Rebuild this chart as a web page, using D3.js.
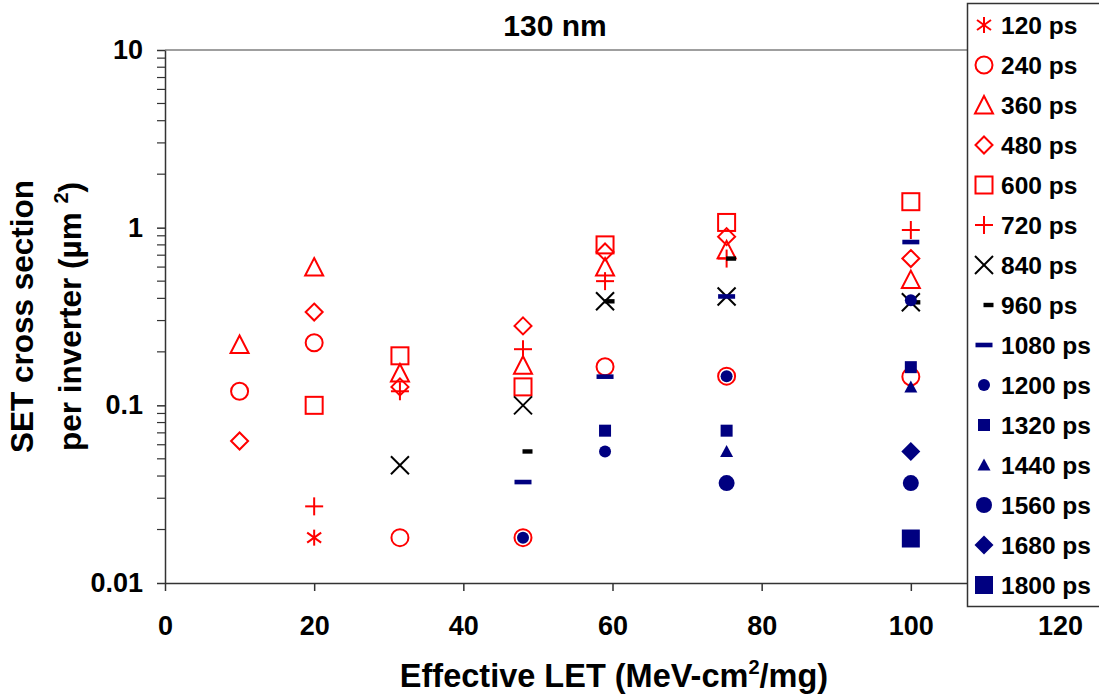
<!DOCTYPE html>
<html lang="en">
<head>
<meta charset="UTF-8">
<script src="https://d3js.org/d3.v7.min.js"></script>
<title>130 nm</title>
<style>
    * { margin: 0; padding: 0; }
    body { background: white; }
    svg { display: block; font-family: "Liberation Sans", Arial, sans-serif; font-weight: bold; }
</style>
</head>
<body>
<svg id="chart" width="1099" height="694"></svg>
<script>
    // effective LET values (x) and SET cross sections per pulse width (null = no point)
    const letValues = [10, 20, 31.5, 48, 59, 75.3, 100];
    const ps120  = [null, 0.018, null, null, null, null, null];
    const ps240  = [0.12, 0.225, 0.018, 0.018, 0.165, 0.146, 0.145];
    const ps360  = [0.22, 0.6, 0.152, 0.168, 0.6, 0.75, 0.51];
    const ps480  = [0.063, 0.335, 0.127, 0.28, 0.73, 0.89, 0.67];
    const ps600  = [null, 0.1, 0.19, 0.127, 0.8, 1.07, 1.4];
    const ps720  = [null, 0.027, 0.12, 0.207, 0.5, 0.67, 0.97];
    const ps840  = [null, null, 0.046, 0.1, 0.385, 0.41, 0.38];
    const ps960  = [null, null, null, 0.055, 0.385, 0.67, 0.38];
    const ps1080 = [null, null, null, 0.037, 0.145, 0.41, 0.83];
    const ps1200 = [null, null, null, 0.018, 0.055, 0.146, 0.39];
    const ps1320 = [null, null, null, null, 0.072, 0.072, 0.164];
    const ps1440 = [null, null, null, null, null, 0.055, 0.127];
    const ps1560 = [null, null, null, null, null, 0.0365, 0.0365];
    const ps1680 = [null, null, null, null, null, null, 0.055];
    const ps1800 = [null, null, null, null, null, null, 0.0178];

    const seriesNames = ['120 ps', '240 ps', '360 ps', '480 ps', '600 ps', '720 ps', '840 ps', '960 ps',
                         '1080 ps', '1200 ps', '1320 ps', '1440 ps', '1560 ps', '1680 ps', '1800 ps'];
    const seriesValues = [ps120, ps240, ps360, ps480, ps600, ps720, ps840, ps960,
                          ps1080, ps1200, ps1320, ps1440, ps1560, ps1680, ps1800];
    const xTicks = [0, 20, 40, 60, 80, 100, 120];
    const yTicks = [0.01, 0.1, 1, 10];

    const red = '#ff0000', navy = '#000080', black = '#000000';
    // marker style per series
    const markers = [
        {type: 'asterisk', color: red},
        {type: 'circle', color: red},
        {type: 'triangle', color: red},
        {type: 'diamond', color: red},
        {type: 'square', color: red},
        {type: 'plus', color: red},
        {type: 'cross', color: black},
        {type: 'shortdash', color: black},
        {type: 'dash', color: navy},
        {type: 'fcircle', color: navy, r: 6},
        {type: 'fsquare', color: navy, r: 6},
        {type: 'ftriangle', color: navy, r: 6.5},
        {type: 'fcircle', color: navy, r: 8},
        {type: 'fdiamond', color: navy, r: 9.5},
        {type: 'fsquare', color: navy, r: 9}
    ];

    const svg = d3.select('#chart');
    const pLeft = 165, pRight = 1060, pTop = 50, pBottom = 583;

    const x = d3.scaleLinear().domain([0, 120]).range([pLeft, pRight]);
    const y = d3.scaleLog().domain([0.01, 10]).range([pBottom, pTop]);

    // plot frame (top / right)
    svg.append('path')
        .attr('d', `M${pLeft},${pTop}H${pRight}V${pBottom}`)
        .attr('fill', 'none')
        .attr('stroke', '#808080')
        .attr('stroke-width', 1.5);

    // x axis
    const xAxis = svg.append('g')
        .attr('transform', `translate(0,${pBottom})`)
        .call(d3.axisBottom(x).tickValues(xTicks).tickSize(8).tickPadding(25).tickSizeOuter(0));
    xAxis.select('.domain').attr('stroke', '#333').attr('stroke-width', 1.5);
    xAxis.selectAll('.tick line').attr('stroke', '#333').attr('stroke-width', 1.5);
    xAxis.selectAll('text')
        .attr('font-family', '"Liberation Sans", Arial, sans-serif')
        .attr('font-weight', 'bold')
        .attr('font-size', 27)
        .attr('fill', '#000');

    // y axis with log minor ticks
    const minorTicks = y.ticks().filter(v => yTicks.indexOf(v) < 0);
    const yAxis = svg.append('g')
        .attr('transform', `translate(${pLeft},0)`)
        .call(d3.axisLeft(y).tickValues(yTicks).tickFormat(d3.format('~g')).tickSize(8).tickPadding(14).tickSizeOuter(0));
    yAxis.select('.domain').attr('stroke', '#333').attr('stroke-width', 1.5);
    yAxis.selectAll('.tick line').attr('stroke', '#333').attr('stroke-width', 1.5);
    yAxis.selectAll('text')
        .attr('font-family', '"Liberation Sans", Arial, sans-serif')
        .attr('font-weight', 'bold')
        .attr('font-size', 27)
        .attr('fill', '#000');
    yAxis.selectAll('.minor')
        .data(minorTicks)
        .enter()
        .append('line')
        .attr('class', 'minor')
        .attr('x1', -8).attr('x2', 0)
        .attr('y1', d => y(d)).attr('y2', d => y(d))
        .attr('stroke', '#333')
        .attr('stroke-width', 1.2);

    // marker drawing
    function drawMarker(g, m) {
        const c = m.color;
        const line = (x1, y1, x2, y2) => g.append('line')
            .attr('x1', x1).attr('y1', y1).attr('x2', x2).attr('y2', y2)
            .attr('stroke', c).attr('stroke-width', 2);
        switch (m.type) {
            case 'asterisk':
                line(0, -8, 0, 8); line(-7, -5, 7, 5); line(-7, 5, 7, -5);
                break;
            case 'circle':
                g.append('circle').attr('r', 8.5).attr('fill', 'none').attr('stroke', c).attr('stroke-width', 2);
                break;
            case 'triangle':
                g.append('path').attr('d', 'M0,-9L9,8.5L-9,8.5Z').attr('fill', 'none').attr('stroke', c).attr('stroke-width', 2);
                break;
            case 'diamond':
                g.append('path').attr('d', 'M0,-8.5L8.5,0L0,8.5L-8.5,0Z').attr('fill', 'none').attr('stroke', c).attr('stroke-width', 2);
                break;
            case 'square':
                g.append('rect').attr('x', -8.5).attr('y', -8.5).attr('width', 17).attr('height', 17)
                    .attr('fill', 'none').attr('stroke', c).attr('stroke-width', 2);
                break;
            case 'plus':
                line(0, -9, 0, 9); line(-9, 0, 9, 0);
                break;
            case 'cross':
                line(-9, -9, 9, 9); line(-9, 9, 9, -9);
                break;
            case 'shortdash':
                g.append('rect').attr('x', -0.5).attr('y', -2.2).attr('width', 10).attr('height', 4.4).attr('fill', c);
                break;
            case 'dash':
                g.append('rect').attr('x', -8.5).attr('y', -2.3).attr('width', 17).attr('height', 4.6).attr('fill', c);
                break;
            case 'fcircle':
                g.append('circle').attr('r', m.r).attr('fill', c);
                break;
            case 'fsquare':
                g.append('rect').attr('x', -m.r).attr('y', -m.r).attr('width', 2 * m.r).attr('height', 2 * m.r).attr('fill', c);
                break;
            case 'ftriangle':
                g.append('path').attr('d', `M0,${-m.r}L${m.r},${m.r * 0.85}L${-m.r},${m.r * 0.85}Z`).attr('fill', c);
                break;
            case 'fdiamond':
                g.append('path').attr('d', `M0,${-m.r}L${m.r},0L0,${m.r}L${-m.r},0Z`).attr('fill', c);
                break;
        }
    }

    // points
    const plot = svg.append('g').attr('class', 'points');
    seriesValues.forEach((vals, si) => {
        vals.forEach((v, i) => {
            if (v == null) return;
            const g = plot.append('g').attr('transform', `translate(${x(letValues[i])},${y(v)})`);
            drawMarker(g, markers[si]);
        });
    });

    // title
    svg.append('text')
        .attr('x', 555).attr('y', 36)
        .attr('text-anchor', 'middle')
        .attr('font-size', 30)
        .text('130 nm');

    // x axis title
    const xt = svg.append('text')
        .attr('x', 614).attr('y', 687)
        .attr('text-anchor', 'middle')
        .attr('font-size', 32.5);
    xt.append('tspan').text('Effective LET (MeV-cm');
    xt.append('tspan').attr('font-size', 20).attr('dy', -13).text('2');
    xt.append('tspan').attr('dy', 13).text('/mg)');

    // y axis title
    const yt = svg.append('g')
        .attr('transform', `translate(0,${(pTop + pBottom) / 2}) rotate(-90)`);
    yt.append('text')
        .attr('x', 0).attr('y', 33)
        .attr('text-anchor', 'middle')
        .attr('font-size', 31.5)
        .text('SET cross section');
    const yt2 = yt.append('text')
        .attr('x', 0).attr('y', 81)
        .attr('text-anchor', 'middle')
        .attr('font-size', 31.5);
    yt2.append('tspan').text('per inverter (µm ');
    yt2.append('tspan').attr('font-size', 20).attr('dy', -13).text('2');
    yt2.append('tspan').attr('dy', 13).text(')');

    // legend
    const legend = svg.append('g').attr('class', 'legend');
    legend.append('rect')
        .attr('x', 967.5).attr('y', 3.5).attr('width', 140).attr('height', 603)
        .attr('fill', 'white').attr('stroke', '#333').attr('stroke-width', 1.5);
    seriesNames.forEach((name, i) => {
        const cy = 25 + i * 40;
        const g = legend.append('g').attr('transform', `translate(984,${cy})`);
        drawMarker(g, markers[i]);
        legend.append('text')
            .attr('x', 1001).attr('y', cy + 8.5)
            .attr('font-size', 24.5)
            .text(name);
    });
</script>
</body>
</html>
